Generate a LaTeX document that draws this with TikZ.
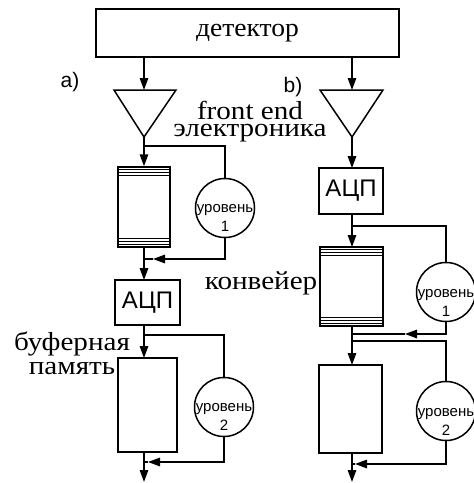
\documentclass[tikz,border=0pt]{standalone}
\usepackage{fontspec}
\setmainfont[FakeStretch=1.12]{Liberation Serif}
\newfontfamily\detf[FakeStretch=1.06]{Liberation Serif}
\newfontfamily\sanss{Liberation Sans}
\usetikzlibrary{arrows.meta}
\begin{document}
\begin{tikzpicture}[x=1pt,y=-1pt,
  line width=1.5pt,
  >={Triangle[length=12pt,width=8.5pt]},
  blk/.style={draw, fill=white, inner sep=0pt},
  lvl/.style={draw, circle, fill=white, minimum size=59pt, inner sep=0pt},
  lvltxt/.style={font=\sanss\fontsize{15}{19}\selectfont, align=center, inner sep=0pt},
  sertxt/.style={font=\fontsize{26}{26}\selectfont, inner sep=0pt},
  sanslbl/.style={font=\sanss\fontsize{21}{21}\selectfont, inner sep=0pt},
  adctxt/.style={font=\sanss\fontsize{24}{24}\selectfont},
  stripe/.style={line width=0.9pt}
]
\useasboundingbox (0,0) rectangle (474,483);

% detector
\node[blk, minimum width=303pt, minimum height=48pt, font=\detf\fontsize{26}{26}\selectfont] (det) at (247.5,33) {детектор};

% triangles
\coordinate (tLtl) at (114,90); \coordinate (tLtr) at (176,90);
\coordinate (tLtop) at (144,90); \coordinate (tLa) at (144,137);
\coordinate (tRtl) at (320,90); \coordinate (tRtr) at (383,90);
\coordinate (tRtop) at (352,90); \coordinate (tRa) at (352,137);
\draw[line join=miter] (tLtl) -- (tLtr) -- (tLa) -- cycle;
\draw[line join=miter] (tRtl) -- (tRtr) -- (tRa) -- cycle;
\draw[->] (det.south -| tLtop) -- (tLtop);
\draw[->] (det.south -| tRtop) -- (tRtop);

% labels
\node[sanslbl] (la) at (70,82) {a)};
\node[sanslbl] (lb) at (293,87) {b)};
\node[font=\fontsize{26}{17}\selectfont, inner sep=0pt, align=center, anchor=base] (fe) at (250,136) {front end\\электроника};
\node[font=\fontsize{26}{24}\selectfont, inner sep=0pt, align=center, anchor=base] (bf) at (72,374) {буферная\\память};
\node[sertxt, anchor=base east] (kv) at (318,289) {конвейер};

% ---------- left chain (a) ----------
\node[blk, minimum width=52pt, minimum height=80pt] (pipeL) at (144,207) {};
\foreach \d in {3.3,6.3,9.3}{
  \draw[stripe] ([yshift=-\d pt]pipeL.north west) -- ([yshift=-\d pt]pipeL.north east);
  \draw[stripe] ([yshift=\d pt]pipeL.south west) -- ([yshift=\d pt]pipeL.south east);
}
\node[blk, minimum width=65pt, minimum height=45pt, adctxt] (adcL) at (147.5,302.5) {АЦП};
\node[blk, minimum width=59pt, minimum height=94pt] (bufL) at (147.5,405) {};
\node[lvl] (c1L) at (225,208) {};
\node[lvltxt] (t1L) at ([yshift=-10pt]c1L.center) {уровень\\1};
\node[lvl] (c2L) at (224,407) {};
\node[lvltxt] (t2L) at ([yshift=-10pt]c2L.center) {уровень\\2};

\coordinate (brL1) at (144,146);
\coordinate (fbL1) at (144,259);
\coordinate (tipL1) at (153,259);
\coordinate (adcLt) at (144,280);
\coordinate (adcLb) at (144,325);
\coordinate (brL2) at (144,335);
\coordinate (bufLt) at (144,358);
\coordinate (bufLb) at (144,452);
\coordinate (fbL2) at (144,462);
\coordinate (tipL2) at (148,462);
\coordinate (outL) at (144,482);

\draw[->] (tLa) -- (pipeL.north);
\draw (brL1) -| (c1L.north);
\draw[->] (c1L.south) |- (tipL1);
\draw (tipL1) -- (fbL1);
\draw[->] (pipeL.south) -- (adcLt);
\draw[->] (adcLb) -- (bufLt);
\draw (brL2) -| (c2L.north);
\draw[->] (c2L.south) |- (tipL2);
\draw (tipL2) -- (fbL2);
\draw[->] (bufLb) -- (outL);

% ---------- right chain (b) ----------
\node[blk, minimum width=64pt, minimum height=46pt, adctxt] (adcR) at (351,191) {АЦП};
\node[blk, minimum width=63pt, minimum height=79pt] (pipeR) at (351.5,286.5) {};
\foreach \d in {3.3,6.3,9.3}{
  \draw[stripe] ([yshift=-\d pt]pipeR.north west) -- ([yshift=-\d pt]pipeR.north east);
  \draw[stripe] ([yshift=\d pt]pipeR.south west) -- ([yshift=\d pt]pipeR.south east);
}
\node[blk, minimum width=63pt, minimum height=88pt] (bufR) at (350.5,409) {};
\node[lvl] (c1R) at (446,292) {};
\node[lvltxt] (t1R) at ([yshift=-11pt]c1R.center) {уровень\\1};
\node[lvl] (c2R) at (446,411) {};
\node[lvltxt] (t2R) at ([yshift=-11pt]c2R.center) {уровень\\2};

\coordinate (adcRt) at (352,168);
\coordinate (adcRb) at (352,214);
\coordinate (brR1) at (352,226);
\coordinate (pipeRt) at (352,247);
\coordinate (pipeRb) at (352,326);
\coordinate (fbR1) at (352,334);
\coordinate (tipR1) at (405,334);
\coordinate (brR2) at (352,341);
\coordinate (bufRt) at (352,365);
\coordinate (bufRb) at (352,453);
\coordinate (fbR2) at (352,464);
\coordinate (tipR2) at (355,464);
\coordinate (outR) at (352,482);

\draw[->] (tRa) -- (adcRt);
\draw[->] (adcRb) -- (pipeRt);
\draw (brR1) -| (c1R.north);
\draw[->] (c1R.south) |- (tipR1);
\draw (tipR1) -- (fbR1);
\draw (pipeRb) -- (fbR1);
\draw[->] (fbR1) -- (bufRt);
\draw (brR2) -| (c2R.north);
\draw[->] (c2R.south) |- (tipR2);
\draw (tipR2) -- (fbR2);
\draw[->] (bufRb) -- (outR);
\end{tikzpicture}
\end{document}
